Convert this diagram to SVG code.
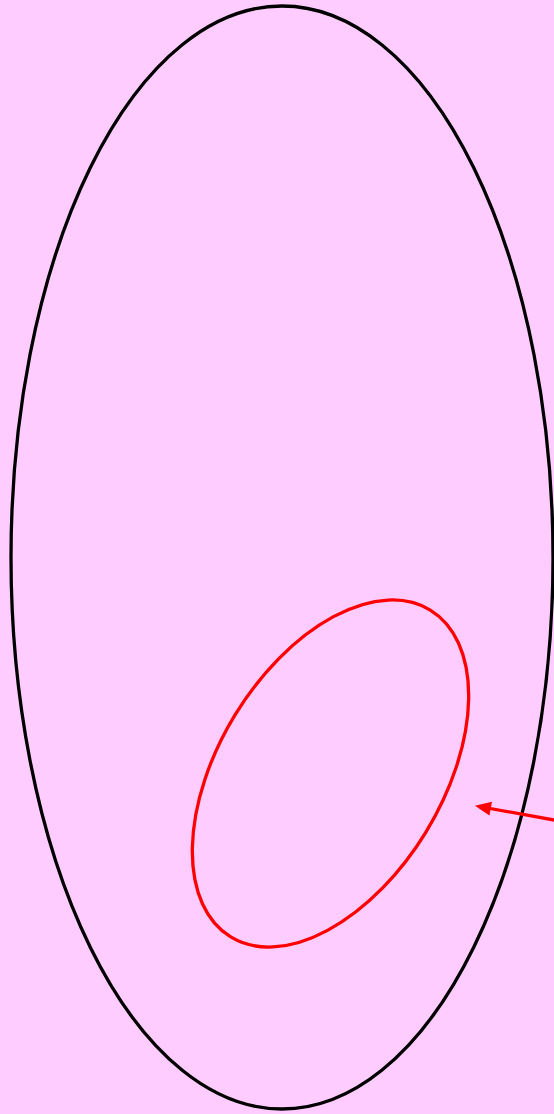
<svg xmlns="http://www.w3.org/2000/svg" width="554" height="1114" viewBox="0 0 554 1114">
<style>
.outer{fill:none;stroke:#000;stroke-width:3.3}
.inner{fill:none;stroke:#f00;stroke-width:3.3}
.conn{fill:none;stroke:#f00;stroke-width:3.3}
</style>
<defs>
<marker id="ah" markerUnits="userSpaceOnUse" markerWidth="20" markerHeight="16" viewBox="0 -8 17 16" refX="6" refY="0" orient="auto">
<path d="M0,-7 L16,0 L0,7 z" fill="#f00"/>
</marker>
</defs>
<rect width="554" height="1114" fill="#ffccff"/>
<g id="outer-ellipse"><ellipse class="outer" cx="282" cy="557.5" rx="271" ry="551.5"/></g>
<g id="inner-ellipse"><ellipse class="inner" cx="330.5" cy="773.5" rx="112" ry="191.5" transform="rotate(31.4 330.5 773.5)"/></g>
<g id="connectors"><line class="conn" x1="570" y1="822.9" x2="484.8" y2="807.5" marker-end="url(#ah)"/></g>
</svg>
